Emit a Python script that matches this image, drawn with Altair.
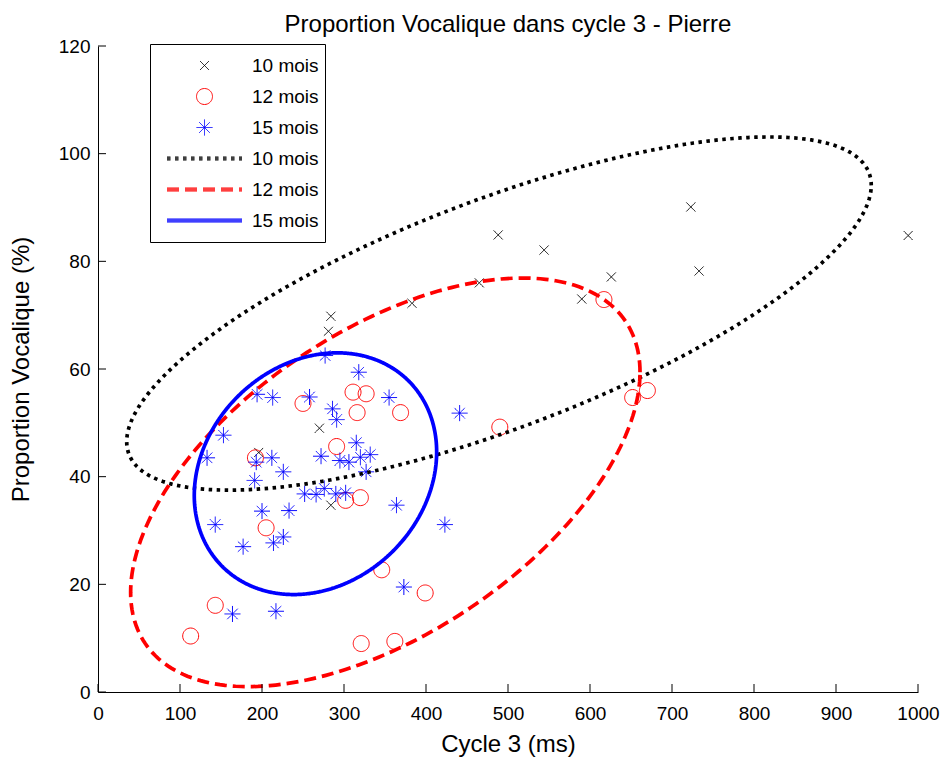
import altair as alt
import pandas as pd
import numpy as np

# ---------------- text ----------------
chart_title = "Proportion Vocalique dans cycle 3 - Pierre"
x_title = "Cycle 3 (ms)"
y_title = "Proportion Vocalique (%)"
x_ticks = [0, 100, 200, 300, 400, 500, 600, 700, 800, 900, 1000]
y_ticks = [0, 20, 40, 60, 80, 100, 120]

# ---------------- points ----------------
m10_x = [723, 488, 544, 988, 733, 626, 590, 465, 383, 284, 281, 270, 196, 284]
m10_y = [90.1, 84.9, 82.1, 84.8, 78.2, 77.1, 73.0, 76.0, 72.2, 69.8, 67.0, 49.0, 44.5, 34.7]

m12_x = [250, 311, 327, 316, 369, 291, 302, 320, 192, 205, 143, 113, 321, 362, 346, 399, 617, 652, 670, 490]
m12_y = [53.6, 55.7, 55.4, 51.9, 51.9, 45.6, 35.6, 36.1, 43.5, 30.5, 16.1, 10.4, 9.0, 9.4, 22.7, 18.4, 72.9, 54.7, 56.0, 49.2]

m15_x = [277, 318, 194, 213, 258, 355, 286, 291, 441, 153, 315, 133, 193, 212, 272, 295, 306, 320, 332,
         226, 327, 191, 252, 266, 276, 290, 302, 200, 233, 364, 143, 423, 177, 214, 226, 373, 164, 217]
m15_y = [62.5, 59.4, 55.3, 54.7, 54.8, 54.7, 52.6, 50.6, 51.8, 47.7, 46.3, 43.5, 42.7, 43.5, 43.8, 43.0, 42.7, 43.6, 44.1,
         40.9, 40.9, 39.3, 36.8, 36.7, 37.8, 36.8, 37.0, 33.6, 33.7, 34.7, 31.1, 31.1, 27.0, 27.7, 28.8, 19.5, 14.5, 15.0]

# ---------------- ellipses ----------------
# centre, half extent in x, half extent in y, y offset at the x-extreme point
ell_groups = ["e10", "e12", "e15"]
ell_cx = [489.0, 350.4, 265.2]
ell_cy = [70.3, 38.95, 40.55]
ell_rx = [454.0, 310.6, 147.8]
ell_ry = [32.8, 37.95, 22.45]
ell_tilt = [23.8, 20.45, 4.05]

# ---------------- build tables ----------------
pts = pd.concat([
    pd.DataFrame({"x": m10_x, "y": m10_y, "grp": "p10"}),
    pd.DataFrame({"x": m12_x, "y": m12_y, "grp": "p12"}),
    pd.DataFrame({"x": m15_x, "y": m15_y, "grp": "p15"}),
], ignore_index=True)

t = np.linspace(0, 2 * np.pi, 241)
ell_frames = []
for g, cx, cy, rx, ry, tl in zip(ell_groups, ell_cx, ell_cy, ell_rx, ell_ry, ell_tilt):
    c = np.sqrt(ry ** 2 - tl ** 2)
    ell_frames.append(pd.DataFrame({
        "x": cx + rx * np.cos(t),
        "y": cy + tl * np.cos(t) + c * np.sin(t),
        "grp": g,
        "i": np.arange(len(t)),
    }))
ell = pd.concat(ell_frames, ignore_index=True)

xt = pd.DataFrame({"v": x_ticks})
yt = pd.DataFrame({"v": y_ticks})

# ---------------- styles ----------------
def circle_path(r, n=32):
    a = np.linspace(0, 2 * np.pi, n + 1)
    pts_ = ["%.3f,%.3f" % (r * np.cos(v), r * np.sin(v)) for v in a]
    return "M" + "L".join(pts_) + "Z"

def band_path(half_len, offsets):
    return "".join("M%.2f,%.2fL%.2f,%.2f" % (-half_len, o, half_len, o) for o in offsets)

X_PATH = "M-0.9,-0.9L0.9,0.9M-0.9,0.9L0.9,-0.9"
O_PATH = circle_path(1.6)
STAR_PATH = "M-1.6,0L1.6,0M0,-1.6L0,1.6M-1.05,-1.05L1.05,1.05M-1.05,1.05L1.05,-1.05"
LINE_PATH = band_path(7.5, [-0.3, -0.1, 0.1, 0.3])

groups = ["p10", "p12", "p15", "e10", "e12", "e15"]
colors = ["#000000", "#FF0000", "#0000FF", "#000000", "#FF0000", "#0000FF"]
shapes = [X_PATH, O_PATH, STAR_PATH, LINE_PATH, LINE_PATH, LINE_PATH]
dashes = [[1, 0], [1, 0], [1, 0], [3.5, 4.5], [12, 6], [1, 0]]

W, H = 820, 646
FONT = "Liberation Sans"

xs = alt.Scale(domain=[0, 1000], nice=False, zero=False)
ys = alt.Scale(domain=[0, 120], nice=False, zero=False)

legend = alt.Legend(
    title=None,
    orient="none",
    legendX=52,
    legendY=-2,
    direction="vertical",
    labelExpr="slice(datum.label, 1) + ' mois'",
    labelFont=FONT,
    labelFontSize=19,
    labelColor="#000000",
    symbolSize=100,
    symbolStrokeWidth=1,
    clipHeight=31,
    rowPadding=0,
    padding=6,
    symbolOffset=39,
    labelOffset=38,
    strokeColor="#000000",
    fillColor="#FFFFFF",
    cornerRadius=0,
)

color_enc = alt.Color("grp:N", scale=alt.Scale(domain=groups, range=colors), legend=legend)
dash_enc = alt.StrokeDash("grp:N", scale=alt.Scale(domain=groups, range=dashes), legend=legend)
shape_enc = alt.Shape("grp:N", scale=alt.Scale(domain=groups, range=shapes), legend=legend)

points = alt.Chart(pts).mark_point(filled=False, size=100, strokeWidth=1, opacity=1).encode(
    x=alt.X("x:Q", scale=xs, title=x_title,
            axis=alt.Axis(values=x_ticks, format="d", ticks=False, labelFlush=False,
                          labelPadding=12, titlePadding=9, grid=False)),
    y=alt.Y("y:Q", scale=ys, title=y_title,
            axis=alt.Axis(values=y_ticks, format="d", ticks=False, labelFlush=False,
                          labelPadding=8, titlePadding=25, grid=False)),
    color=color_enc,
    shape=shape_enc,
    strokeDash=dash_enc,
)

lines = alt.Chart(ell).mark_line(strokeWidth=3.7, strokeCap="butt").encode(
    x=alt.X("x:Q", scale=xs),
    y=alt.Y("y:Q", scale=ys),
    color=color_enc,
    strokeDash=dash_enc,
    detail="grp:N",
    order="i:Q",
)

xtick = alt.Chart(xt).mark_rule(color="#000000", strokeWidth=1).encode(
    x=alt.X("v:Q", scale=xs), y=alt.value(H), y2=alt.value(H - 8))
ytick = alt.Chart(yt).mark_rule(color="#000000", strokeWidth=1).encode(
    y=alt.Y("v:Q", scale=ys), x=alt.value(0), x2=alt.value(8))

chart = alt.layer(points, lines, xtick, ytick).properties(
    width=W,
    height=H,
    title=alt.TitleParams(chart_title, font=FONT, fontSize=24, fontWeight="normal", color="#000000", offset=0),
    autosize=alt.AutoSizeParams(type="none"),
    padding={"left": 90, "top": 38, "right": 22, "bottom": 66},
).configure_view(stroke="transparent").configure_axis(
    domainColor="#000000",
    domainWidth=1,
    labelFont=FONT,
    labelFontSize=19,
    labelColor="#000000",
    titleFont=FONT,
    titleFontSize=24,
    titleFontWeight="normal",
    titleColor="#000000",
)

chart.save("out.html", embed_options={"renderer": "svg", "actions": False})
